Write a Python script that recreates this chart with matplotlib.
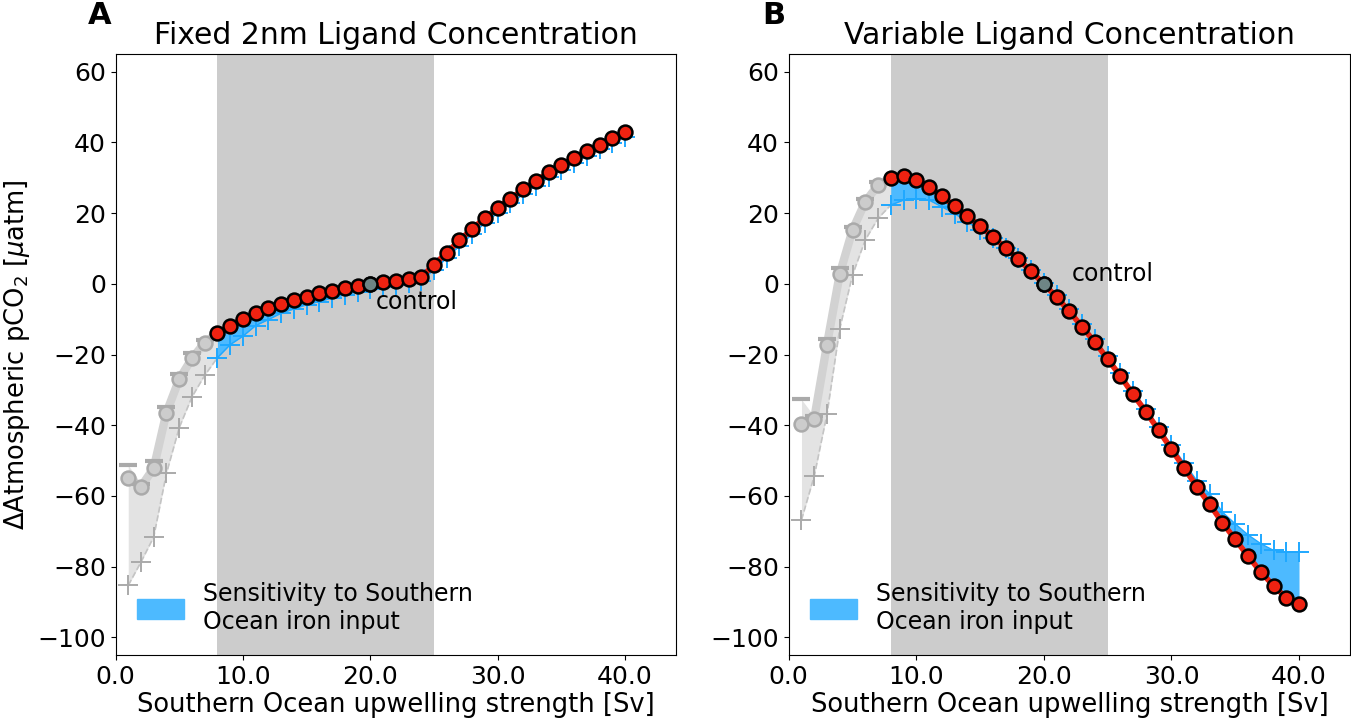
import matplotlib
matplotlib.use("Agg")
import matplotlib.pyplot as plt
from matplotlib.ticker import FormatStrFormatter
from matplotlib.patches import Patch
import numpy as np

# upwelling strength [Sv]
upwelling = list(range(1, 41))

# panel A: fixed 2nm ligand
A_circle = [-54.9, -57.4, -52.1, -36.4, -27.0, -21.1, -16.7, -13.9, -11.8, -9.9,
            -8.3, -6.9, -5.6, -4.6, -3.6, -2.6, -1.9, -1.2, -0.6, 0.0,
            0.5, 0.9, 1.4, 1.9, 5.4, 8.8, 12.3, 15.6, 18.6, 21.5,
            24.1, 26.7, 29.1, 31.5, 33.5, 35.6, 37.5, 39.4, 41.2, 42.9]
A_plus = [-85.3, -78.7, -71.6, -53.6, -40.7, -32.0, -25.9, -20.9, -17.2, -14.8,
          -11.8, -10.1, -8.3, -7.1, -5.9, -5.0, -4.0, -3.1, -2.2, -1.4,
          -0.8, -0.3, 0.2, 0.8, 4.0, 7.3, 10.8, 14.1, 17.2, 20.1,
          22.8, 25.3, 27.8, 30.1, 32.2, 34.3, 36.2, 38.1, 39.9, 41.6]
A_bar = [-51.3, -56.5, -50.2, -34.7, -25.4, -19.5, -16.0]

# panel B: variable ligand
B_circle = [-39.7, -38.1, -17.2, 2.8, 15.2, 23.2, 27.9, 30.0, 30.5, 29.3,
            27.4, 24.8, 22.0, 19.2, 16.3, 13.3, 10.2, 7.0, 3.5, 0.0,
            -3.8, -7.8, -12.2, -16.5, -21.3, -26.1, -31.3, -36.2, -41.4, -46.8,
            -52.1, -57.4, -62.4, -67.6, -72.3, -77.0, -81.5, -85.4, -88.8, -90.7]
B_plus = [-66.8, -54.4, -36.9, -12.7, 2.5, 12.4, 18.5, 22.3, 23.7, 24.1,
          23.7, 21.8, 19.9, 17.5, 15.2, 12.9, 10.2, 7.2, 3.8, 0.3,
          -3.2, -7.1, -11.4, -15.7, -20.5, -25.3, -30.4, -35.3, -40.4, -45.6,
          -50.7, -55.7, -59.4, -64.6, -67.9, -71.0, -73.5, -75.4, -75.9, -75.9]
B_bar = [-32.7, -37.5, -15.6, 4.4, 16.0, 23.9, 28.8]

titles = ["Fixed 2nm Ligand Concentration", "Variable Ligand Concentration"]
letters = ["A", "B"]
control_x = 20
cutoff = 8

RED = "#ee2211"
BLUE = "#4dbaff"
BLUE_PLUS = "#1fa8ff"
GREY_FILL = "#e3e3e3"
GREY_LINE = "#d2d2d2"
GREY_MARK = "#aaaaaa"


def panel(ax, circ, plus, bar, title, ctext_xy):
    x = np.array(upwelling)
    circ = np.array(circ)
    plus = np.array(plus)
    lo = x <= cutoff
    hi = x >= cutoff

    ax.axvspan(8, 25, color="#cccccc", lw=0, zorder=0)

    # grey low-upwelling part
    top = np.concatenate([bar, [circ[cutoff - 1]]])
    ax.fill_between(x[lo], top, plus[lo], color=GREY_FILL, lw=0, zorder=1)
    ax.plot(x[lo], circ[lo], color=GREY_LINE, lw=6, zorder=2, solid_capstyle="round")
    ax.plot(x[lo], plus[lo], color="#c4c4c4", lw=1.2, ls="--", zorder=2)
    ax.plot(x[lo][:-1], plus[lo][:-1], ls="none", marker="+", ms=14, mew=1.4,
            color=GREY_MARK, zorder=3)
    ax.plot(x[lo][:-1], bar, ls="none", marker="_", ms=13, mew=3,
            color=GREY_MARK, zorder=3)
    ax.plot(x[lo][:-1], circ[lo][:-1], ls="none", marker="o", ms=10, mew=1.8,
            mfc="#cccccc", mec=GREY_MARK, zorder=4)

    # blue sensitivity part
    ax.fill_between(x[hi], circ[hi], plus[hi], color=BLUE, lw=0, zorder=1)
    ax.plot(x[hi], plus[hi], ls="-", lw=1, marker="+", ms=14, mew=1.4,
            color=BLUE_PLUS, zorder=3)
    ax.plot(x[hi], circ[hi], color=RED, lw=4, zorder=5)
    ax.plot(x[hi], circ[hi], ls="none", marker="o", ms=10, mew=1.8,
            mfc=RED, mec="black", zorder=6)
    ci = control_x - 1
    ax.plot([x[ci]], [circ[ci]], ls="none", marker="o", ms=10, mew=1.8,
            mfc="#6e8585", mec="black", zorder=7)
    ax.text(ctext_xy[0], ctext_xy[1], "control", fontsize=17, ha="left",
            va="center", zorder=8)

    ax.set_xlim(0, 44)
    ax.set_ylim(-105, 65)
    ax.set_xticks([0, 10, 20, 30, 40])
    ax.set_yticks(range(-100, 61, 20))
    ax.xaxis.set_major_formatter(FormatStrFormatter("%.1f"))
    ax.tick_params(labelsize=18)
    ax.set_xlabel("Southern Ocean upwelling strength [Sv]", fontsize=18.5, labelpad=2)
    ax.set_title(title, fontsize=21.5, pad=7)
    ax.legend(handles=[Patch(color=BLUE, label="Sensitivity to Southern\nOcean iron input")],
              loc="lower left", frameon=False, fontsize=17,
              bbox_to_anchor=(0.0, 0.0), handlelength=2.0, handleheight=0.9)


fig = plt.figure(figsize=(13.51, 7.24), dpi=100)
axA = fig.add_axes([0.0855, 0.0953, 0.4149, 0.830])
axB = fig.add_axes([0.5838, 0.0953, 0.4155, 0.830])

panel(axA, A_circle, A_plus, A_bar, titles[0], (20.4, -5.2))
panel(axB, B_circle, B_plus, B_bar, titles[1], (22.2, 2.8))
axA.set_ylabel(r"$\Delta$Atmospheric pCO$_2$ [$\mu$atm]", fontsize=18.5, labelpad=4)

fig.text(88 / 1351, 1 - 16 / 724, letters[0], fontsize=22, fontweight="bold",
         ha="left", va="center")
fig.text(762 / 1351, 1 - 16 / 724, letters[1], fontsize=22, fontweight="bold",
         ha="left", va="center")

fig.savefig("out.png", dpi=100)
